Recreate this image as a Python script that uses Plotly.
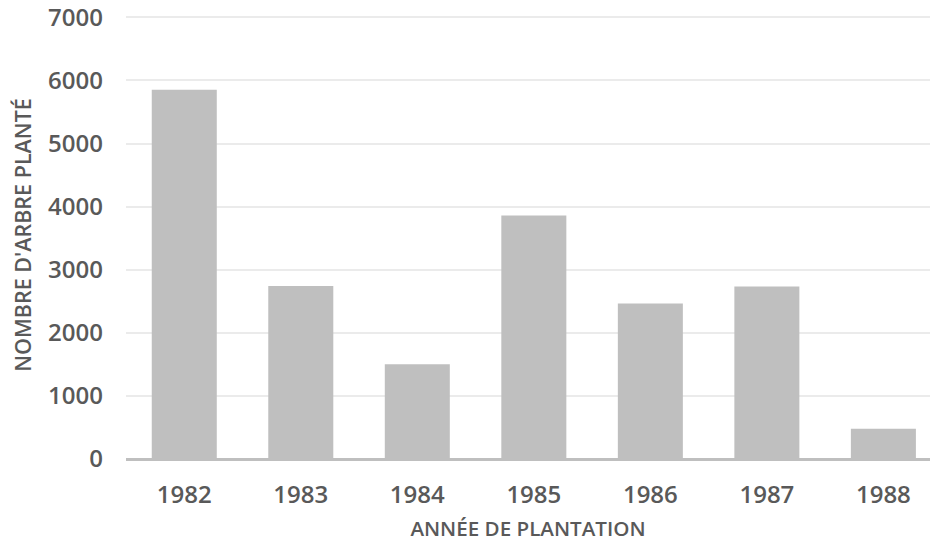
import plotly.graph_objects as go

years = ["1982", "1983", "1984", "1985", "1986", "1987", "1988"]
trees = [5850, 2740, 1500, 3860, 2465, 2735, 480]

text_color = "#595959"
bar_color = "#bfbfbf"

fig = go.Figure(go.Bar(x=years, y=trees, marker=dict(color=bar_color, line=dict(width=0))))

fig.update_layout(
    width=930, height=544,
    margin=dict(l=126, r=0, t=11, b=85, autoexpand=False),
    plot_bgcolor="white", paper_bgcolor="white",
    bargap=0.442,
    showlegend=False,
    font=dict(family="Open Sans", color=text_color),
)
fig.update_xaxes(
    type="category",
    range=[-0.5, 6.4],
    automargin=False,
    showgrid=False,
    showline=False,
    tickfont=dict(size=24, color=text_color, weight=600),
    ticklabelstandoff=19,
    ticklabeloverflow="allow",
    title=dict(text="ANNÉE DE PLANTATION", font=dict(size=20.6, color=text_color, weight=600), standoff=12),
)
fig.update_yaxes(
    range=[0, 7100],
    tickvals=[0, 1000, 2000, 3000, 4000, 5000, 6000, 7000],
    automargin=False,
    showgrid=True, gridcolor="#ebebeb", gridwidth=1.5,
    zeroline=True, zerolinecolor=bar_color, zerolinewidth=2.5,
    showline=False,
    tickfont=dict(size=24, color=text_color, weight=600),
    ticklabelstandoff=22,
    ticklabeloverflow="allow",
    tickformat="d",
    title=dict(text="NOMBRE D'ARBRE PLANTÉ", font=dict(size=21.5, color=text_color, weight=600), standoff=10),
)

# remove the default 8px page margin so the 930x544 figure fills the window exactly
fig.write_html(
    "out.html",
    config={"displayModeBar": False},
    post_script="document.body.style.margin='0px';",
)
